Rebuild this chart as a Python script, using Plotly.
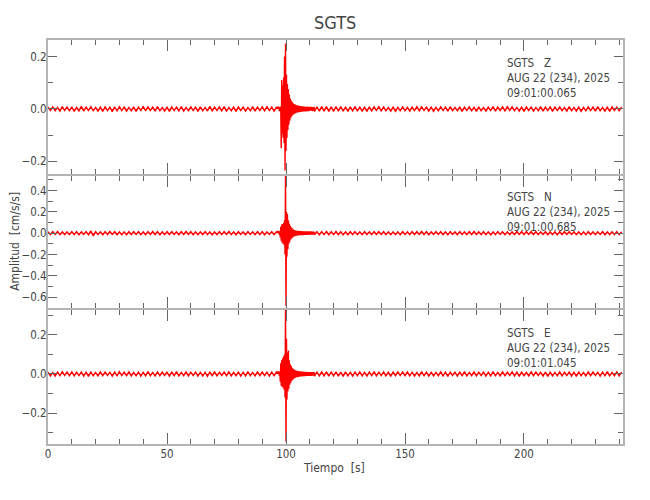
import plotly.graph_objects as go

# ---------------- data (values in units of 0.001 cm/s/s) ----------------
# background samples every 1 s from t=0 to 96 s, event window every 0.2 s
# from 97.0 to 111.8 s, background samples every 1 s from 112 to 241 s
z_pre = [7, -6, 8, -7, 6, -8, 9, -6, 7, -7,
         8, -9, 6, -7, 10, -8, 7, -6, 9, -7,
         6, -8, 7, -9, 8, -6, 7, -10, 8, -7,
         9, -6, 7, -8, 6, -7, 8, -9, 7, -6,
         10, -7, 8, -6, 7, -8, 9, -7, 6, -8,
         7, -9, 8, -6, 7, -7, 9, -8, 6, -7,
         8, -6, 7, -9, 8, -7, 6, -8, 10, -7,
         7, -6, 8, -7, 9, -8, 6, -7, 7, -9,
         8, -6, 7, -8, 6, -7, 9, -8, 7, -6,
         8, -7, 9, -6, 7, -8, 7]
z_evt = [7, -8, 6, -7, 9,
         -150, 110, -95, 90, -110, 120, -130, 200, -235, 250,
         -160, 130, -110, 95, -80, 75, -60, 55, -45, 40,
         -35, 32, -28, 26, -24, 22, -20, 19, -18, 17,
         -16, 15, -14, 14, -13, 13, -12, 12, -12, 11,
         -11, 11, -10, 10, -10, 10, -9, 9, -9, 9,
         -9, 8, -9, 8, -8, 9, -8, 7, -8, 8,
         -7, 8, -7, 8, -7, 7, -8, 7, -7, 8]
z_post = [-9, 8, -8, 9, -8, 9, -9, 8, -9, 9,
          -8, 9, -8, 7, -9, 8, -7, 9, -8, 7,
          -8, 7, -9, 8, -7, 8, -6, 9, -7, 8,
          -7, 6, -8, 7, -9, 6, -7, 8, -7, 6,
          -8, 7, -6, 9, -7, 8, -6, 7, -8, 7,
          -9, 6, -7, 8, -6, 7, -8, 9, -7, 6,
          -7, 8, -9, 7, -6, 8, -7, 6, -9, 8,
          -7, 6, -8, 7, -6, 9, -8, 7, -6, 8,
          -7, 9, -6, 8, -7, 6, -8, 7, -9, 8,
          -6, 7, -8, 6, -7, 9, -8, 7, -6, 8,
          -9, 7, -6, 8, -7, 6, -8, 9, -7, 6,
          -8, 7, -9, 6, -7, 8, -6, 7, -8, 9,
          -7, 6, -8, 7, -9, 8, -6, 7, -7, 8]

n_pre = [14, -13, 15, -12, 16, -14, 13, -15, 12, -14,
         15, -13, 14, -16, 13, -12, 15, -14, 22, -26,
         14, -13, 12, -15, 14, -13, 16, -12, 14, -15,
         13, -14, 12, -16, 15, -13, 14, -12, 15, -14,
         13, -15, 14, -12, 16, -13, 14, -15, 12, -14,
         15, -13, 14, -12, 13, -15, 14, -13, 16, -12,
         14, -15, 13, -14, 12, -13, 15, -14, 13, -16,
         12, -14, 15, -13, 14, -12, 16, -14, 13, -15,
         14, -12, 13, -15, 14, -13, 12, -14, 15, -13,
         14, -16, 13, -12, 15, -14, 13]
n_evt = [15, -14, 16,
         -40, 60, -70, 80, -90, 85, -100, 95, -110, 120,
         -200, 560, -680, 200, -220, 180, -150, 120, -100, 90,
         -80, 70, -60, 55, -50, 45, -40, 36, -33, 30,
         -28, 27, -26, 25, -24, 23, -22, 22, -21, 21,
         -20, 20, -20, 19, -19, 19, -18, 18, -18, 18,
         -17, 17, -17, 17, -16, 17, -16, 16, -16, 16,
         -15, 16, -15, 15, -15, 16, -14, 15, -15, 14,
         -15, 14]
n_post = [-15, 14, -16, 15, -14, 16, -15, 14, -14, 16,
          -15, 14, -16, 13, -15, 14, -13, 15, -14, 13,
          -14, 15, -13, 12, -14, 15, -13, 14, -12, 15,
          -14, 13, -15, 12, -14, 13, -15, 14, -12, 13,
          -14, 15, -13, 14, -12, 16, -13, 14, -15, 12,
          -13, 14, -12, 15, -14, 13, -16, 14, -13, 12,
          -15, 14, -13, 12, -14, 15, -13, 16, -14, 12,
          -13, 15, -14, 12, -16, 13, -14, 15, -12, 13,
          -14, 12, -15, 13, -14, 16, -12, 14, -13, 15,
          -12, 14, -13, 15, -14, 12, -13, 14, -15, 13,
          -14, 12, -16, 14, -13, 15, -12, 14, -13, 12,
          -15, 13, -14, 12, -14, 15, -13, 12, -14, 13,
          -12, 14, -15, 13, -14, 12, -13, 15, -14, 13]

e_pre = [9, -10, 8, -11, 10, -9, 12, -8, 10, -9,
         11, -10, 9, -8, 10, -11, 9, -12, 10, -9,
         8, -10, 11, -9, 10, -8, 9, -11, 10, -9,
         12, -8, 10, -9, 11, -10, 8, -9, 10, -11,
         9, -10, 12, -9, 8, -10, 11, -9, 10, -8,
         9, -11, 10, -9, 12, -10, 8, -9, 11, -10,
         9, -8, 10, -11, 9, -10, 8, -12, 10, -9,
         11, -10, 9, -8, 10, -9, 11, -10, 8, -9,
         10, -11, 9, -10, 12, -9, 8, -10, 11, -9,
         10, -8, 9, -11, 10, -9, 10]
e_evt = [10, -9, 11,
         -40, 55, -60, 70, -65, 80, -70, 90, -80, 100,
         -120, 340, -345, 180, -130, 110, -90, 120, -75, 70,
         -55, 50, -45, 40, -36, 32, -30, 27, -25, 23,
         -21, 20, -19, 18, -17, 16, -16, 15, -15, 14,
         -14, 13, -13, 13, -12, 12, -12, 12, -11, 11,
         -11, 11, -11, 10, -10, 11, -10, 10, -10, 10,
         -9, 10, -10, 9, -10, 10, -9, 10, -9, 10,
         -9, 10]
e_post = [-11, 10, -10, 11, -10, 11, -11, 10, -10, 11,
          -11, 10, -12, 11, -10, 9, -11, 10, -9, 11,
          -10, 9, -11, 10, -9, 12, -10, 9, -8, 11,
          -10, 9, -12, 10, -9, 11, -8, 10, -9, 11,
          -10, 9, -11, 8, -10, 12, -9, 10, -11, 9,
          -10, 8, -9, 11, -10, 9, -12, 10, -8, 9,
          -11, 10, -9, 12, -10, 8, -9, 11, -10, 9,
          -8, 10, -11, 9, -10, 12, -9, 8, -10, 11,
          -9, 10, -8, 11, -10, 9, -12, 10, -9, 8,
          -10, 11, -9, 10, -8, 9, -11, 10, -12, 9,
          -10, 8, -9, 11, -10, 9, -8, 10, -11, 9,
          -12, 10, -9, 8, -10, 11, -9, 10, -8, 9,
          -11, 10, -9, 12, -10, 8, -9, 11, -10, 9]

channels = ["Z", "N", "E"]
start_times = ["09:01:00.065", "09:01:00.685", "09:01:01.045"]
date_label = "AUG 22 (234), 2025"
station = "SGTS"
y_ranges = [[-0.2476, 0.2629], [-0.700, 0.537], [-0.358, 0.328]]
y_tickvals = [[-0.2, 0.0, 0.2],
              [-0.6, -0.4, -0.2, 0.0, 0.2, 0.4],
              [-0.2, 0.0, 0.2]]
x_tickvals = [0, 50, 100, 150, 200]

# sample times
t_pre = [float(i) for i in range(len(z_pre))]
t_evt = [97.0 + 0.2 * i for i in range(len(z_evt))]
t_post = [112.0 + i for i in range(len(z_post))]
times = t_pre + t_evt + t_post

series = [z_pre + z_evt + z_post, n_pre + n_evt + n_post, e_pre + e_evt + e_post]

# ---------------- figure ----------------
W, H = 650, 500
OFF = 8                      # page body margin of the browser
ML, MT = 48 - OFF, 40 - OFF
PW = 575
PH = 444.3 - 40
MR = W - ML - PW
MB = H - MT - PH
FONT = "DejaVu Sans Condensed, Liberation Sans Narrow, sans-serif"
TXT = "#444444"
FS = 11.5


def px_x(px):
    return (px - OFF - ML) / PW


def px_y(py):
    return (MT + PH - (py - OFF)) / PH


panel_px = [(40, 174), (176, 308), (310, 444.3)]

fig = go.Figure()
for i, vals in enumerate(series):
    k = "" if i == 0 else str(i + 1)
    fig.add_trace(go.Scatter(
        x=times, y=[v / 1000.0 for v in vals], mode="lines",
        line=dict(color="#ff0000", width=1.4),
        fill="tozeroy", fillcolor="#ff0000",
        xaxis="x" + k, yaxis="y" + k, showlegend=False, hoverinfo="skip"))

axis_common = dict(showline=True, linecolor="#b4b4b4", linewidth=2, mirror="allticks",
                   ticks="inside", tickcolor="#666666", tickwidth=1,
                   showgrid=False, zeroline=False,
                   tickfont=dict(family=FONT, size=FS, color=TXT))

layout = dict(width=W, height=H,
              margin=dict(l=ML, r=MR, t=MT, b=MB, autoexpand=False),
              paper_bgcolor="white", plot_bgcolor="white",
              font=dict(family=FONT, color=TXT))

for i in range(3):
    k = "" if i == 0 else str(i + 1)
    top, bot = panel_px[i]
    xa = dict(axis_common)
    xa.update(domain=[0, 1], range=[0, 241.6],
              tickvals=x_tickvals, ticklen=11, ticklabelstandoff=-2,
              minor=dict(dtick=10, ticklen=5, ticks="inside", tickcolor="#666666"),
              anchor="y" + k, showticklabels=(i == 2))
    ya = dict(axis_common)
    ya.update(domain=[max(0, px_y(bot)), min(1, px_y(top))], range=y_ranges[i],
              tickvals=y_tickvals[i], tickformat=".1f", ticklen=9, ticklabelstandoff=-3,
              minor=dict(dtick=0.1, ticklen=5, ticks="inside", tickcolor="#666666"),
              anchor="x" + k)
    layout["xaxis" + k] = xa
    layout["yaxis" + k] = ya

annotations = [
    dict(text=station, x=px_x(335), y=px_y(22.5), xref="paper", yref="paper",
         showarrow=False, font=dict(family=FONT, size=18, color=TXT),
         xanchor="center", yanchor="middle"),
    dict(text="Amplitud  [cm/s/s]", x=px_x(15), y=px_y(242), xref="paper", yref="paper",
         showarrow=False, textangle=-90, font=dict(family=FONT, size=12, color=TXT),
         xanchor="center", yanchor="middle"),
    dict(text="Tiempo  [s]", x=px_x(334), y=px_y(468.5), xref="paper", yref="paper",
         showarrow=False, font=dict(family=FONT, size=12, color=TXT),
         xanchor="center", yanchor="middle"),
]
label_top = [54, 188, 324]
for i in range(3):
    annotations.append(dict(
        text=f"{station}   {channels[i]}<br>{date_label}<br>{start_times[i]}",
        x=px_x(505), y=px_y(label_top[i]), xref="paper", yref="paper",
        showarrow=False, align="left", xanchor="left", yanchor="top",
        font=dict(family=FONT, size=FS, color=TXT)))
layout["annotations"] = annotations

fig.update_layout(**layout)
fig.write_html("out.html")
